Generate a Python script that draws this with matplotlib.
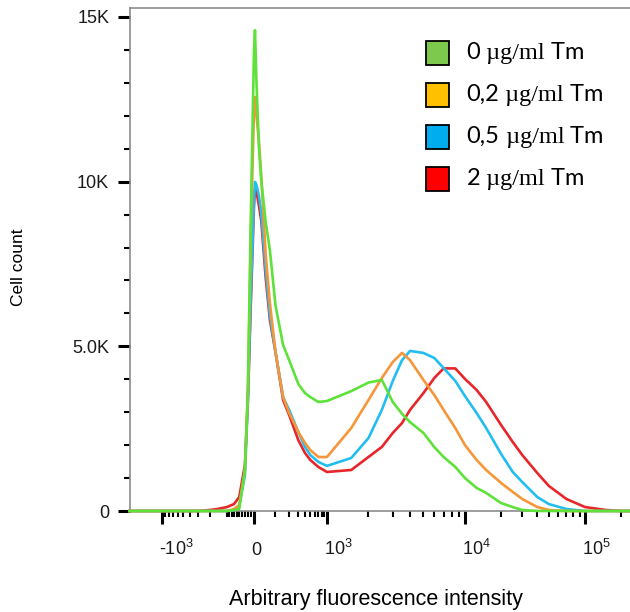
import numpy as np
import matplotlib
matplotlib.use("Agg")
import matplotlib.pyplot as plt
from matplotlib.patches import Rectangle
from matplotlib.offsetbox import AnchoredOffsetbox, HPacker, TextArea, DrawingArea
from matplotlib.transforms import ScaledTranslation

plt.rcParams['font.family'] = ['Liberation Sans', 'DejaVu Sans']
plt.rcParams['mathtext.fontset'] = 'custom'
plt.rcParams['mathtext.rm'] = 'Liberation Sans'
plt.rcParams['mathtext.it'] = 'Liberation Sans:italic'
plt.rcParams['mathtext.bf'] = 'Liberation Sans:bold'

# fluorescence intensity (bin positions) and cell counts per Tm dose
intensity = [-2900, -1000, -500, -300, -200, -150, -100, -70, -50, -30, -20, -10, 0, 4, 10, 20, 30,
             50, 70, 100, 150, 200, 300, 400, 500, 700, 1000, 1500, 2000, 2500, 3000, 3500,
             4000, 5000, 6000, 7000, 8500, 10000, 12500, 15000, 20000, 25000, 30000, 40000,
             50000, 70000, 100000, 150000, 200000, 250000]
count_0 = [0, 0, 0, 0, 0, 0, 0, 30, 60, 1250, 3670, 9140, 14000, 14600, 13080, 11100, 10050,
           8770, 7920, 6250, 5040, 4580, 3860, 3580, 3460, 3310, 3340, 3640, 3900, 3980, 3310, 2950,
           2700, 2370, 1940, 1640, 1340, 1000, 700, 550, 240, 120, 30, 0,
           0, 0, 0, 0, 0, 0]
count_02 = [0, 0, 0, 0, 0, 0, 0, 60, 180, 1245, 3670, 8530, 12170, 12570, 12020, 11260, 10200,
            7770, 6315, 4830, 3460, 2975, 2400, 2065, 1850, 1640, 1640, 2520, 3370, 4040, 4525, 4800,
            4580, 3980, 3520, 3070, 2520, 2000, 1550, 1245, 850, 580, 365, 120,
            30, 0, 0, 0, 0, 0]
count_05 = [0, 0, 0, 0, 0, 0, 0, 30, 150, 1090, 3370, 6710, 9440, 9990, 9900, 9590, 9080,
            7320, 5950, 4830, 3460, 3070, 2400, 1940, 1700, 1490, 1370, 1610, 2215, 3070, 3950, 4580,
            4860, 4800, 4645, 4340, 3950, 3490, 2975, 2520, 1730, 1185, 880, 425,
            210, 60, 0, 0, 0, 0]
count_2 = [0, 0, 0, 0, 30, 60, 120, 210, 425, 1400, 3370, 6400, 9290, 9750, 9690, 9290, 8830,
           7075, 5800, 4830, 3370, 2915, 2155, 1760, 1550, 1335, 1185, 1245, 1640, 1945, 2370, 2670,
           3070, 3580, 4040, 4330, 4330, 4010, 3675, 3310, 2610, 2095, 1700, 1155,
           760, 365, 120, 30, 0, 0]

doses = ['0', '0,2', '0,5', '2']
series = [count_0, count_02, count_05, count_2]
line_colors = ['#5ee23a', '#f5963a', '#22bef0', '#e8262a']
box_colors = ['#7cc94e', '#ffc000', '#00aeef', '#ff0000']

xticks = [-1000, 0, 1000, 10000, 100000]
xticklabels = [r'-$\mathregular{10^{3}}$', r'$\mathregular{0}$', r'$\mathregular{10^{3}}$',
               r'$\mathregular{10^{4}}$', r'$\mathregular{10^{5}}$']
yticks = [0, 5000, 10000, 15000]
yticklabels = ['0', '5.0K', '10K', '15K']

# biexponential-like display axis: arcsinh units mapped piecewise onto screen units
anchor_x = np.array([-1e4, -1e3, 0, 1e3, 1e4, 1e5, 1e6])
anchor_u = np.arcsinh(anchor_x / 100)
anchor_s = np.array([91.4, 162, 254, 327, 465, 585, 705])


def fwd(x):
    return np.interp(np.arcsinh(np.asarray(x, dtype=float) / 100), anchor_u, anchor_s)


def inv(s):
    return 100 * np.sinh(np.interp(np.asarray(s, dtype=float), anchor_s, anchor_u))


fig = plt.figure(figsize=(6.3, 6.12), dpi=100)
ax = fig.add_axes([130 / 630, 101 / 612, 500 / 630, 503 / 612])
ax.set_xscale('function', functions=(fwd, inv))

# red at the back, green on top
for i in [3, 2, 1, 0]:
    ax.plot(intensity, series[i], color=line_colors[i], lw=1.9, clip_on=False,
            solid_joinstyle='round', zorder=3 + (3 - i))

ax.set_xlim(inv(130), inv(630))
ax.set_ylim(0, 15273)

minor_x = ([-100 * k for k in range(1, 10)] + [-10 * k for k in range(1, 10)]
           + [100 * k for k in range(1, 10)] + [1000 * k for k in range(2, 10)]
           + [10000 * k for k in range(2, 10)] + [200000])
ax.set_xticks(xticks)
ax.set_xticklabels(xticklabels)
ax.set_xticks(minor_x, minor=True)
ax.set_xticklabels([], minor=True)
ax.set_yticks(yticks)
ax.set_yticklabels(yticklabels)
ax.set_yticks([k * 1000 for k in range(1, 15) if k % 5], minor=True)

ax.tick_params(axis='both', which='major', length=9, width=2.2, color='black', direction='out')
ax.tick_params(axis='both', which='minor', length=4.5, width=1.5, color='black', direction='out')
ax.tick_params(axis='y', which='major', labelsize=13, pad=6, labelcolor='#1a1a1a')
ax.tick_params(axis='x', which='major', labelsize=13, pad=22.7, labelcolor='#1a1a1a')
shift = ScaledTranslation(-3 / 100, 0, fig.dpi_scale_trans)
for lab in ax.get_xticklabels():
    lab.set_horizontalalignment('left')
    lab.set_verticalalignment('baseline')
    lab.set_transform(lab.get_transform() + shift)

ax.spines['right'].set_visible(False)
for side in ['left', 'bottom', 'top']:
    ax.spines[side].set_color('#8c8c8c')
    ax.spines[side].set_linewidth(1.2)

ax.set_ylabel('Cell count', fontsize=12.5, va='center')
ax.yaxis.set_label_coords((19 - 130) / 500, (511 - 267.5) / 503)
ax.set_xlabel('Arbitrary fluorescence intensity', fontsize=15.5, va='center')
ax.xaxis.set_label_coords((376 - 130) / 500, (511 - 599) / 503)

# legend: coloured squares with mixed-font labels
for i in range(4):
    da = DrawingArea(18, 18, 0, 0)
    da.add_artist(Rectangle((0.6, 0.6), 16.8, 16.8, fc=box_colors[i], ec='black', lw=1.3))
    parts = HPacker(children=[
        TextArea(doses[i], textprops=dict(family='Lato', fontsize=17)),
        TextArea(' \u00b5g/ml', textprops=dict(family='Liberation Serif', fontsize=17.5)),
        TextArea(' Tm', textprops=dict(family='Lato', fontsize=17)),
    ], sep=0, pad=0, align='baseline')
    row = HPacker(children=[da, parts], sep=12, pad=0, align='center')
    box = AnchoredOffsetbox(loc='center left', child=row, pad=0, borderpad=0, frameon=False,
                            bbox_to_anchor=(425 / 630, 1 - (53 + 42 * i) / 612),
                            bbox_transform=fig.transFigure)
    ax.add_artist(box)

fig.savefig('out.png', dpi=100)
